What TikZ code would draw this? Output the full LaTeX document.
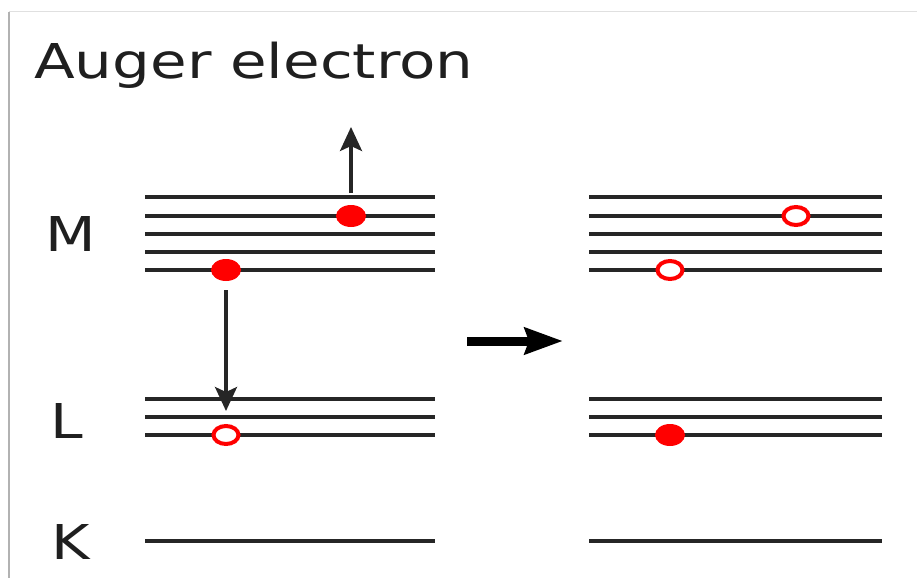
\documentclass[tikz,border=0pt]{standalone}
\usepackage{fontspec}
\usepackage{graphicx}
\setmainfont{DejaVu Sans}
\usetikzlibrary{arrows.meta,shapes.geometric}
\begin{document}
\begin{tikzpicture}[x=1pt,y=-1pt,
  level/.style={line width=3.6pt, draw=black!85},
  lbl/.style={font=\fontsize{48}{48}\selectfont, inner sep=0pt, text=black!88},
  efull/.style={ellipse, fill=red, minimum width=30pt, minimum height=22pt, inner sep=0pt},
  ehole/.style={ellipse, draw=red, line width=4pt, fill=white, minimum width=25pt, minimum height=18pt, inner sep=0pt},
  jump/.style={line width=3.3pt, draw=black!85, -{Stealth[length=24pt,width=22pt,inset=5pt]}},
  bigarrow/.style={line width=9pt, draw=black, -{Stealth[length=38pt,width=26pt,inset=4pt]}}]
\useasboundingbox (0,0) rectangle (917,578);
% frame
\draw[black!12, line width=1pt] (9,12) -- (917,12);
\draw[black!30, line width=1.2pt] (9,12) -- (9,578);
% title and labels
\node[lbl, anchor=base west] (title) at (34,78) {\scalebox{1.24}[1]{Auger electron}};
\node[lbl] (M) at (71,234) {\scalebox{1.22}[1]{M}};
\node[lbl] (L) at (67,421) {\scalebox{1.22}[1]{L}};
\node[lbl] (K) at (71,542) {\scalebox{1.22}[1]{K}};
% levels
\foreach \xa/\xb in {145/435, 589/882}{
  \foreach \yy in {197,216,234,252,270,399,417,435,541}{
    \draw[level] (\xa,\yy) -- (\xb,\yy);
  }
}
% electrons, left
\node[efull] (eM2) at (351,216) {};
\node[efull] (eM5) at (226,270) {};
\node[ehole] (hL3) at (226,435) {};
% electrons, right
\node[ehole] (rM2) at (796,216) {};
\node[ehole] (rM5) at (670,270) {};
\node[efull] (rL3) at (670,435) {};
% arrows
\coordinate (upS) at (351,193);
\coordinate (upE) at (351,127);
\coordinate (dnS) at (226,290);
\coordinate (dnE) at (226,411);
\coordinate (bS) at (467,341);
\coordinate (bE) at (563,341);
\draw[jump] (upS) -- (upE);
\draw[jump] (dnS) -- (dnE);
\draw[bigarrow] (bS) -- (bE);
\end{tikzpicture}
\end{document}
